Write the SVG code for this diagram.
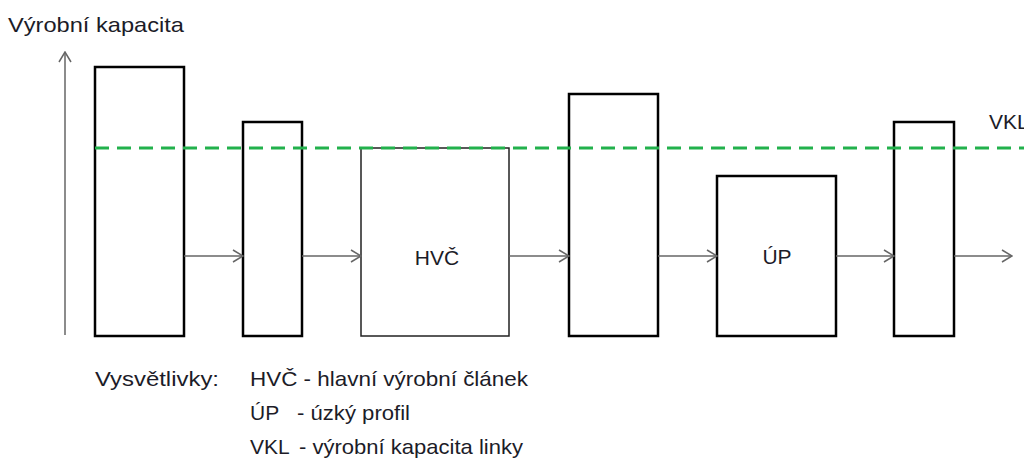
<svg xmlns="http://www.w3.org/2000/svg" width="1024" height="461" viewBox="0 0 1024 461">
<defs>
<marker id="ah" viewBox="0 0 12 14" refX="11" refY="7" markerWidth="12" markerHeight="14" markerUnits="userSpaceOnUse" orient="auto">
<path d="M1,1 L11,7 L1,13" fill="none" stroke="#666" stroke-width="1.5"/>
</marker>
</defs>
<style>
text{font-family:"Liberation Sans","DejaVu Sans",sans-serif;font-size:21px;fill:#1c1c28}
.box{fill:#fff;stroke:#000;stroke-width:2.5}
.thin{stroke-width:1.5;stroke:#222}
.con{stroke:#666;stroke-width:1.5;fill:none;marker-end:url(#ah)}
</style>
<rect width="1024" height="461" fill="#fff"/>
<text x="8" y="32" textLength="176" lengthAdjust="spacingAndGlyphs">Výrobní kapacita</text>
<g id="axis"><line x1="65" y1="335" x2="65" y2="52" class="con"/></g>
<g id="box1"><rect class="box" x="95" y="67" width="89" height="269"/></g>
<g id="box2"><rect class="box" x="243" y="122" width="59" height="214"/></g>
<g id="hvc"><rect class="box thin" x="361" y="148" width="148" height="188"/><text x="437" y="265" text-anchor="middle">HVČ</text></g>
<g id="box4"><rect class="box" x="569" y="94" width="89" height="242"/></g>
<g id="up"><rect class="box" x="717" y="176" width="119" height="160"/><text x="777" y="264" text-anchor="middle">ÚP</text></g>
<g id="box6"><rect class="box" x="894" y="122" width="60" height="214"/></g>
<g id="vkl"><line x1="95" y1="148" x2="1024" y2="148" stroke="#22b14c" stroke-width="3" stroke-dasharray="14 8"/><text x="989" y="129">VKL</text></g>
<g id="connectors">
<line class="con" x1="184" y1="256" x2="243" y2="256"/>
<line class="con" x1="302" y1="256" x2="361" y2="256"/>
<line class="con" x1="509" y1="256" x2="569" y2="256"/>
<line class="con" x1="658" y1="256" x2="717" y2="256"/>
<line class="con" x1="836" y1="256" x2="894" y2="256"/>
<line class="con" x1="954" y1="256" x2="1012" y2="256"/>
</g>
<g id="legend">
<text x="95" y="386" textLength="124" lengthAdjust="spacingAndGlyphs">Vysvětlivky:</text>
<text x="250" y="386" textLength="278" lengthAdjust="spacingAndGlyphs">HVČ - hlavní výrobní článek</text>
<text x="250" y="420">ÚP</text>
<text x="297" y="420" textLength="113" lengthAdjust="spacingAndGlyphs">- úzký profil</text>
<text x="250" y="454">VKL</text>
<text x="299" y="454" textLength="224" lengthAdjust="spacingAndGlyphs">- výrobní kapacita linky</text>
</g>
</svg>
